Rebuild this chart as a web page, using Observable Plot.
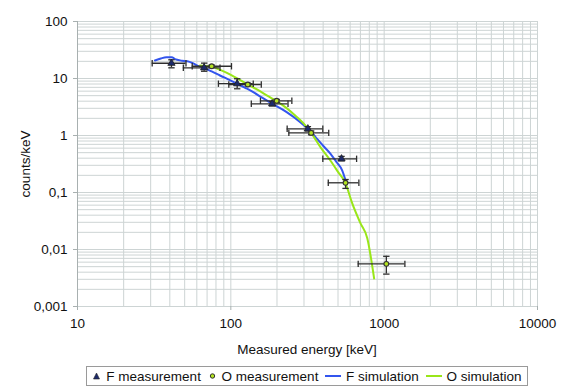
<!DOCTYPE html>
<html><head><meta charset="utf-8">
<script src="https://cdn.jsdelivr.net/npm/d3@7"></script>
<script src="https://cdn.jsdelivr.net/npm/@observablehq/plot@0.6"></script>
<style>
body{margin:0;background:#fff;font-family:"Liberation Sans",Arial,sans-serif;color:#111;}
#wrap{position:relative;width:568px;height:390px;overflow:hidden;}
#xtitle{position:absolute;left:77px;width:460px;top:342px;text-align:center;font-size:13.5px;}
#legend{position:absolute;left:86px;top:366px;width:442px;height:20px;border:1px solid #9a9a9a;box-sizing:border-box;font-size:13.5px;display:flex;align-items:center;justify-content:space-around;padding:0 2px;}
#legend span.item{display:flex;align-items:center;white-space:nowrap;}
#legend svg{margin-right:5px;}
</style></head><body>
<div id="wrap"><div id="chart"></div>
<div id="xtitle">Measured energy [keV]</div>
<div id="legend"></div></div>
<script>
// F measurement
const fEnergy   = [41, 67, 110, 186, 318, 527];
const fCounts   = [18.5, 15.4, 8.1, 3.6, 1.31, 0.39];
const fEnergyLo = [30.7, 49, 83, 136, 233, 398];
const fEnergyHi = [51, 85, 140, 236, 398, 661];
const fCountsLo = [15.4, 13.4, 6.6, 3.3, 1.2, 0.36];
const fCountsHi = [21.3, 18.6, 9.9, 3.95, 1.43, 0.43];
// O measurement
const oEnergy   = [75, 129, 199, 334, 560, 1033];
const oCounts   = [16.4, 7.85, 4.06, 1.11, 0.148, 0.0056];
const oEnergyLo = [56, 97, 156, 239, 432, 677];
const oEnergyHi = [101, 158, 250, 435, 684, 1365];
const oCountsLo = [15.6, 7.4, 3.8, 1.03, 0.118, 0.0037];
const oCountsHi = [17.2, 8.3, 4.3, 1.2, 0.169, 0.0076];
// F simulation
const fSimEnergy = [32, 35, 38, 41, 44, 48, 52, 56, 60, 67, 75, 85, 100, 110, 125, 141, 160, 186, 230, 285, 318, 360, 400, 447, 490, 533, 560];
const fSimCounts = [20.7, 22.5, 23.6, 23.6, 21.5, 20.5, 20.1, 18.8, 17.0, 15.3, 13.3, 11.3, 9.2, 8.1, 6.8, 5.7, 4.6, 3.6, 2.6, 1.7, 1.31, 0.91, 0.66, 0.477, 0.34, 0.243, 0.163];
// O simulation
const oSimEnergy = [63, 68, 75, 86, 100, 115, 129, 150, 175, 199, 230, 265, 300, 334, 385, 447, 500, 560, 615, 700, 776, 860];
const oSimCounts = [16.9, 16.6, 16.2, 14.0, 11.6, 9.4, 7.85, 6.3, 4.9, 4.0, 3.05, 2.2, 1.6, 1.11, 0.62, 0.36, 0.23, 0.145, 0.068, 0.029, 0.0158, 0.0031];
// axes
const xTicks = [10, 100, 1000, 10000];
const xTickLabels = ["10", "100", "1000", "10000"];
const yTicks = [0.001, 0.01, 0.1, 1, 10, 100];
const yTickLabels = ["0,001", "0,01", "0,1", "1", "10", "100"];
const legendLabels = ["F measurement", "O measurement", "F simulation", "O simulation"];

const colF = "#1c2a6b", colO = "#b3e320", colFSim = "#3355ee", colOSim = "#99e619";

// minor grid values (1..9 per decade)
const xGrid = [], yGrid = [];
for (let k = 1; k < 4; k++) for (let m = 1; m <= 9; m++) xGrid.push(m * 10 ** k);
xGrid.push(10000);
for (let k = -3; k < 2; k++) for (let m = 1; m <= 9; m++) yGrid.push(+(m * 10 ** k).toPrecision(3));
yGrid.push(100);

const fMeas = fEnergy.map((e, i) => ({e, c: fCounts[i], elo: fEnergyLo[i], ehi: fEnergyHi[i], clo: fCountsLo[i], chi: fCountsHi[i]}));
const oMeas = oEnergy.map((e, i) => ({e, c: oCounts[i], elo: oEnergyLo[i], ehi: oEnergyHi[i], clo: oCountsLo[i], chi: oCountsHi[i]}));
const fSim = fSimEnergy.map((e, i) => ({e, c: fSimCounts[i]}));
const oSim = oSimEnergy.map((e, i) => ({e, c: oSimCounts[i]}));

const vCap = {draw(ctx, size) { const r = Math.sqrt(size / Math.PI); ctx.moveTo(0, -r); ctx.lineTo(0, r); }};
const hCap = {draw(ctx, size) { const r = Math.sqrt(size / Math.PI); ctx.moveTo(-r, 0); ctx.lineTo(r, 0); }};

function errMarks(data) {
  const s = "#2e2e2e", w = 1.3;
  return [
    Plot.ruleY(data, {y: "c", x1: "elo", x2: "ehi", stroke: s, strokeWidth: w}),
    Plot.ruleX(data, {x: "e", y1: "clo", y2: "chi", stroke: s, strokeWidth: w}),
    Plot.dot(data, {x: "elo", y: "c", symbol: vCap, r: 3.2, stroke: s, strokeWidth: w, fill: "none"}),
    Plot.dot(data, {x: "ehi", y: "c", symbol: vCap, r: 3.2, stroke: s, strokeWidth: w, fill: "none"}),
    Plot.dot(data, {x: "e", y: "clo", symbol: hCap, r: 3.2, stroke: s, strokeWidth: w, fill: "none"}),
    Plot.dot(data, {x: "e", y: "chi", symbol: hCap, r: 3.2, stroke: s, strokeWidth: w, fill: "none"})
  ];
}

const chart = Plot.plot({
  width: 568, height: 360,
  marginLeft: 77, marginRight: 31, marginTop: 21, marginBottom: 54,
  style: {fontFamily: "'Liberation Sans', Arial, sans-serif", fontSize: "13.5px", color: "#111", background: "#fff"},
  x: {type: "log", domain: [10, 10000]},
  y: {type: "log", domain: [0.001, 100]},
  marks: [
    Plot.ruleX(xGrid, {stroke: "#cdd4d4", strokeWidth: 1}),
    Plot.ruleY(yGrid, {stroke: "#cdd4d4", strokeWidth: 1}),
    Plot.ruleX([10], {stroke: "#a8b0b0"}),
    Plot.axisX({ticks: xTicks, tickFormat: d => xTickLabels[xTicks.indexOf(d)], tickSize: 4, tickPadding: 8, stroke: "#a8b0b0", label: null}),
    Plot.axisY({ticks: yTicks, tickFormat: d => yTickLabels[yTicks.indexOf(d)], tickSize: 4, tickPadding: 6, stroke: "#a8b0b0",
      label: "counts/keV", labelAnchor: "center", labelArrow: "none", labelOffset: 57}),
    Plot.line(fSim, {x: "e", y: "c", stroke: colFSim, strokeWidth: 2, curve: "monotone-x"}),
    Plot.line(oSim, {x: "e", y: "c", stroke: colOSim, strokeWidth: 2, curve: "monotone-x"}),
    ...errMarks(fMeas),
    ...errMarks(oMeas),
    Plot.dot(fMeas, {x: "e", y: "c", symbol: "triangle", r: 2.7, fill: colF, stroke: "#222", strokeWidth: 0.8}),
    Plot.dot(oMeas, {x: "e", y: "c", symbol: "circle", r: 2.4, fill: colO, stroke: "#333", strokeWidth: 1.1})
  ]
});
document.getElementById("chart").appendChild(chart);

// legend
const lg = document.getElementById("legend");
const sym = [
  `<svg width="9" height="10"><path d="M4.5,2L7.5,8L1.5,8Z" fill="${colF}" stroke="#222" stroke-width="0.6"/></svg>`,
  `<svg width="9" height="10"><circle cx="4.5" cy="5" r="2.2" fill="${colO}" stroke="#333" stroke-width="1"/></svg>`,
  `<svg width="16" height="10"><line x1="0" y1="5" x2="16" y2="5" stroke="${colFSim}" stroke-width="2"/></svg>`,
  `<svg width="16" height="10"><line x1="0" y1="5" x2="16" y2="5" stroke="${colOSim}" stroke-width="2"/></svg>`
];
legendLabels.forEach((t, i) => {
  const s = document.createElement("span");
  s.className = "item";
  s.innerHTML = sym[i] + `<span>${t}</span>`;
  lg.appendChild(s);
});
</script>
</body></html>
